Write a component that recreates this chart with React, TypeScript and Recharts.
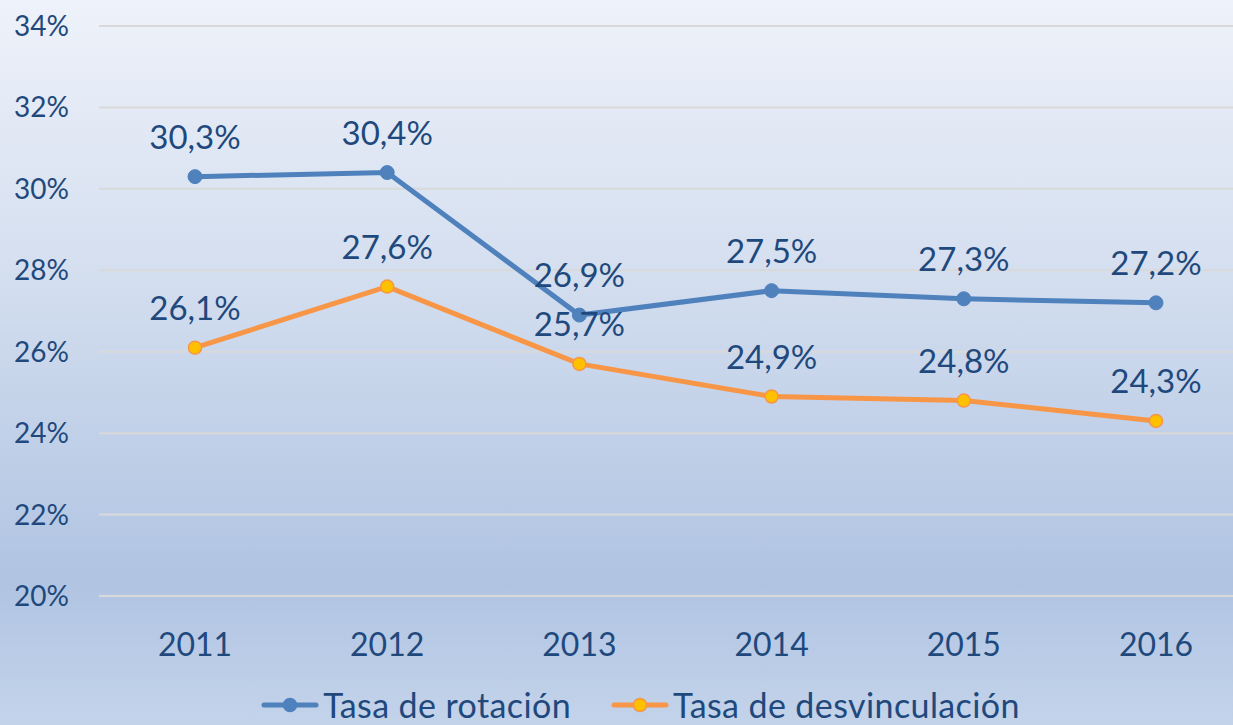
import { LineChart, Line, XAxis, YAxis, CartesianGrid, Legend, LabelList } from 'recharts'

const years = ['2011', '2012', '2013', '2014', '2015', '2016']
const rotacion = [30.3, 30.4, 26.9, 27.5, 27.3, 27.2]
const desvinculacion = [26.1, 27.6, 25.7, 24.9, 24.8, 24.3]
const yTicks = [20, 22, 24, 26, 28, 30, 32, 34]
const seriesOrder = ['rotacion', 'desvinculacion']

const TEXT = '#1f497d'
const BLUE = '#4f81bd'
const ORANGE = '#f79646'
const GOLD = '#ffc000'
const FONT = 'Lato, "Open Sans", sans-serif'

const data = years.map((year, i) => ({
  year,
  rotacion: rotacion[i],
  desvinculacion: desvinculacion[i],
}))

const markerFill: Record<string, string> = { rotacion: BLUE, desvinculacion: GOLD }

const fmt = (v: any) => `${Number(v).toFixed(1).replace('.', ',')}%`

function LegendContent({ payload }: any) {
  const items = [...(payload || [])].sort(
    (a: any, b: any) => seriesOrder.indexOf(a.dataKey) - seriesOrder.indexOf(b.dataKey)
  )
  return (
    <div style={{ display: 'flex', justifyContent: 'center', alignItems: 'center', gap: 40, fontFamily: FONT }}>
      {items.map((p: any) => (
        <div key={p.value} style={{ display: 'flex', alignItems: 'center', gap: 4 }}>
          <svg width={58} height={16}>
            <line x1={3} y1={8} x2={55} y2={8} stroke={p.color} strokeWidth={5} strokeLinecap="round" />
            <circle cx={29} cy={8} r={6.5} fill={markerFill[p.dataKey] || p.color} stroke={p.color} strokeWidth={1.5} />
          </svg>
          <span style={{ fontSize: 34, lineHeight: 1, letterSpacing: 0.4, color: TEXT }}>{p.value}</span>
        </div>
      ))}
    </div>
  )
}

export default function App() {
  return (
    <div
      style={{
        position: 'fixed',
        top: 0,
        left: 0,
        width: 1233,
        height: 725,
        overflow: 'hidden',
        background: 'linear-gradient(180deg, #eef2fa 0%, #d6e0f0 35%, #b0c4e2 80%, #c3d3ea 100%)',
      }}
    >
      <LineChart width={1260} height={725} data={data} margin={{ top: 26, right: 8, bottom: 0, left: 0 }}>
        <CartesianGrid vertical={false} stroke="#d9d9d9" strokeWidth={2} />
        <XAxis
          dataKey="year"
          axisLine={false}
          tickLine={false}
          height={129}
          tickMargin={31}
          padding={{ left: 96, right: 96 }}
          tick={{ fill: TEXT, fontSize: 32, fontFamily: FONT }}
        />
        <YAxis
          domain={[20, 34]}
          ticks={yTicks}
          width={99}
          axisLine={false}
          tickLine={false}
          tickMargin={24}
          tickFormatter={(v) => `${v}%`}
          tick={{ fill: TEXT, fontSize: 28, fontFamily: FONT }}
        />
        <Legend
          layout="horizontal"
          verticalAlign="middle"
          wrapperStyle={{ top: 688, left: 24, width: 1233 }}
          content={<LegendContent />}
        />
        <Line
          dataKey="rotacion"
          name="Tasa de rotación"
          stroke={BLUE}
          strokeWidth={5}
          dot={{ r: 7, fill: BLUE, stroke: BLUE, strokeWidth: 1 }}
          isAnimationActive={false}
        >
          <LabelList dataKey="rotacion" position="top" offset={28} formatter={fmt} fill={TEXT} fontSize={33} fontFamily={FONT} />
        </Line>
        <Line
          dataKey="desvinculacion"
          name="Tasa de desvinculación"
          stroke={ORANGE}
          strokeWidth={5}
          dot={{ r: 6.5, fill: GOLD, stroke: ORANGE, strokeWidth: 1.5 }}
          isAnimationActive={false}
        >
          <LabelList dataKey="desvinculacion" position="top" offset={28} formatter={fmt} fill={TEXT} fontSize={33} fontFamily={FONT} />
        </Line>
      </LineChart>
    </div>
  )
}
